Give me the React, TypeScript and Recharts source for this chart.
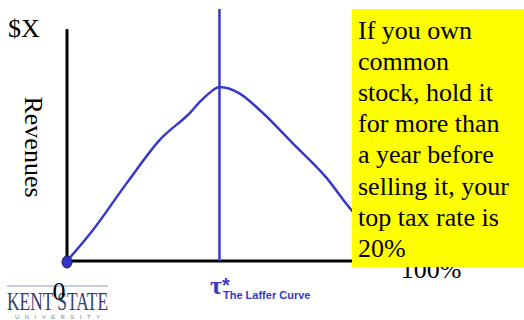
import { ComposedChart, Line, XAxis, YAxis, ReferenceLine, ReferenceDot } from 'recharts';

// tax rate (%) against revenue (arbitrary units)
const taxRate = [0, 7, 16.5, 25.5, 34, 36.5, 39.5, 42, 47.5, 53, 62, 71.5, 78.5, 90, 100];
const revenue = [0, 12, 31, 48, 59, 63, 67, 69, 66.5, 60, 47, 33, 20, 7, 0];
const peakRate = 42;
const axisTop = 92;

const noteLines = [
  'If you own',
  'common',
  'stock, hold it',
  'for more than',
  'a year before',
  'selling it, your',
  'top tax rate is',
  '20%',
];

const data = taxRate.map((t, i) => ({ rate: t, revenue: revenue[i] }));

const BLUE = '#3838c8';
const SERIF = "'Liberation Serif', 'Times New Roman', serif";
const SANS = "'Liberation Sans', Arial, sans-serif";

const serif = { fontFamily: SERIF, fontSize: 26 };

export default function App() {
  return (
    <div style={{ position: 'fixed', left: 0, top: 0, width: 524, height: 320, background: '#fff' }}>
      <ComposedChart width={524} height={320} data={data} margin={{ top: 9, right: 94, bottom: 59, left: 67 }}>
        <XAxis type="number" dataKey="rate" domain={[0, 100]} hide />
        <YAxis type="number" domain={[0, 100]} hide />
        <ReferenceLine y={0} stroke="#000" strokeWidth={3} />
        <ReferenceLine segment={[{ x: 0, y: 0 }, { x: 0, y: axisTop }]} stroke="#000" strokeWidth={3} />
        <ReferenceLine x={peakRate} stroke={BLUE} strokeWidth={2.5} />
        <Line
          type="monotone"
          dataKey="revenue"
          stroke={BLUE}
          strokeWidth={2.5}
          dot={false}
          isAnimationActive={false}
        />
        <ReferenceDot
          x={0}
          y={0}
          r={5}
          shape={(p: any) => (
            <ellipse cx={p.cx} cy={p.cy + 1} rx={5} ry={6} fill="#3333cc" stroke="#1a1a66" strokeWidth={1} />
          )}
        />
      </ComposedChart>

      <svg width={524} height={320} style={{ position: 'absolute', left: 0, top: 0, pointerEvents: 'none' }}>
        <text x={8} y={37} style={serif}>$X</text>
        <text x={0} y={0} style={serif} textAnchor="middle" transform="translate(25,147) rotate(90)">
          Revenues
        </text>
        <text x={431} y={278} style={serif} textAnchor="middle">100%</text>

        {/* note box */}
        <rect x={352} y={9} width={172} height={258} fill="#ffff00" />
        <g style={serif}>
          {noteLines.map((line, i) => (
            <text key={i} x={358} y={39 + i * 31.1} style={serif}>
              {line}
            </text>
          ))}
        </g>

        {/* logo */}
        <line x1={7} y1={286} x2={108} y2={286} stroke="#c8cce0" strokeWidth={2} />
        <text x={7} y={310} style={{ fontFamily: SERIF, fontSize: 25 }} fill="#34406f" textLength={101} lengthAdjust="spacingAndGlyphs">
          KENT STATE
        </text>
        <text x={15} y={319} style={{ fontFamily: SANS, fontSize: 6 }} fill="#7a7f96" textLength={85} lengthAdjust="spacing">
          UNIVERSITY
        </text>
        <text x={59} y={300} style={serif} textAnchor="middle">0</text>

        <text x={210} y={294} style={{ fontFamily: SERIF, fontSize: 26, fontWeight: 'bold' }} fill={BLUE}>τ</text>
        <text x={222} y={292} style={{ fontFamily: SANS, fontSize: 20, fontWeight: 'bold' }} fill={BLUE}>*</text>
        <text x={223} y={299} style={{ fontFamily: SANS, fontSize: 11, fontWeight: 'bold' }} fill={BLUE}>The Laffer Curve</text>
      </svg>
    </div>
  );
}
